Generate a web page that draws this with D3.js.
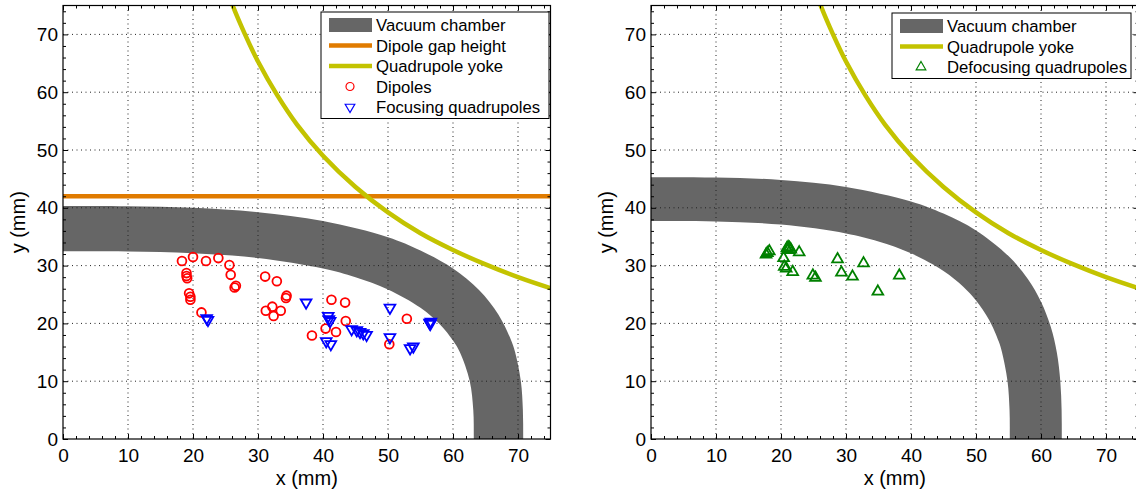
<!DOCTYPE html>
<html>
<head>
<meta charset="utf-8">
<script src="https://cdn.jsdelivr.net/npm/d3@7"></script>
<style>
  body { margin: 0; background: #fff; }
  svg { display: block; font-family: "Liberation Sans", Arial, sans-serif; }
</style>
</head>
<body>
<div id="chart"></div>
<script>
/* Data (mm) */
const majorTicks = [0, 10, 20, 30, 40, 50, 60, 70];
const minorTicks = [2, 4, 6, 8, 12, 14, 16, 18, 22, 24, 26, 28, 32, 34, 36, 38, 42, 44, 46, 48,
  52, 54, 56, 58, 62, 64, 66, 68, 72, 74];
const dipoleGap = 42;

const yoke = [[25, 78.4], [26.1, 75], [28, 70], [30, 65.3], [33, 59.4], [36, 54.4], [40, 49], [45, 43.6],
  [50, 39.2], [55, 35.6], [60, 32.7], [65, 30.2], [70, 28], [75, 26.1], [78, 25.1]];

const chamberLeftOuter = [[0, 40.3], [10, 40.26], [20, 40.0], [30, 39.25], [40, 37.7], [50, 34.9], [55, 32.6],
  [60, 29.5], [64, 25.8], [67, 21.5], [69, 16.9], [69.56, 15], [70.44, 10], [70.75, 5], [70.8, 0]];
const chamberLeftInner = [[0, 32.5], [10, 32.46], [20, 32.15], [30, 31.3], [40, 29.48], [45, 27.98], [50, 25.88],
  [55, 22.7], [58, 19.83], [60, 17.05], [61.06, 15], [62.58, 10], [63.12, 5], [63.2, 0]];
const chamberRightOuter = [[0, 45.3], [10, 45.24], [20, 44.82], [30, 43.62], [40, 41.1], [45, 39.0], [50, 36.07],
  [55, 31.64], [58, 27.64], [60, 23.76], [61.5, 19.4], [62.43, 15], [62.97, 10], [63.17, 5], [63.2, 0]];
const chamberRightInner = [[0, 37.7], [10, 37.63], [20, 37.09], [30, 35.57], [35, 34.18], [40, 32.14], [45, 29.07],
  [48, 26.38], [50, 23.97], [52, 20.64], [53.5, 16.87], [54.0, 15], [54.85, 10], [55.16, 5], [55.2, 0]];

const dipoles = [[18.3, 30.8], [20.0, 31.5], [22.0, 30.8], [23.9, 31.3], [25.6, 30.1], [25.8, 28.4],
  [19.0, 28.7], [19.0, 28.2], [19.1, 27.8], [26.6, 26.5], [26.4, 26.2], [19.4, 25.2], [19.6, 24.6], [19.6, 24.1],
  [21.3, 21.9], [31.1, 28.1], [32.9, 27.3], [34.4, 24.8], [34.3, 24.4], [32.2, 22.9], [33.5, 22.2], [31.2, 22.2],
  [32.4, 21.3], [41.3, 24.1], [43.4, 23.6], [43.5, 20.4], [40.4, 19.1], [42.0, 18.5], [38.3, 17.9],
  [52.9, 20.8], [50.2, 16.4]];

const focusing = [[22.1, 20.9], [22.3, 20.6], [37.4, 23.6], [40.8, 21.3], [40.9, 20.7], [41.1, 20.4],
  [40.5, 16.9], [41.2, 16.4], [44.4, 19.0], [45.2, 18.8], [45.7, 18.5], [46.2, 18.3], [46.7, 18.0],
  [50.3, 22.7], [50.3, 17.6], [53.4, 15.7], [53.9, 16.0], [56.4, 20.1], [56.5, 19.9], [56.6, 20.3]];

const defocusing = [[17.7, 31.9], [17.9, 32.2], [18.2, 32.5], [20.4, 31.3], [20.9, 33.0], [21.1, 33.2],
  [21.3, 33.1], [21.5, 32.8], [21.0, 32.7], [22.8, 32.3], [20.5, 29.8], [20.8, 29.5], [21.8, 28.9],
  [24.9, 28.3], [25.3, 27.9], [28.7, 31.1], [29.3, 28.8], [31.0, 28.1], [32.7, 30.4], [34.9, 25.5], [38.2, 28.3]];

/* Colors */
const chamberColor = "#666666";
const gapColor = "#e07b00";
const yokeColor = "#c3c300";

const width = 1136, height = 494;
const svg = d3.select("#chart").append("svg")
  .attr("width", width)
  .attr("height", height);

const plotW = 487.5, plotTop = 5.5, plotBottom = 439;

function bandPath(outer, inner, x, y) {
  const line = d3.line().x(d => x(d[0])).y(d => y(d[1])).curve(d3.curveCatmullRom);
  const o = [[-5, outer[0][1]], ...outer, [outer[outer.length - 1][0], -5]];
  const inn = inner.slice().reverse();
  const i = [[inn[0][0], -5], ...inn, [-5, inner[0][1]]];
  return line(o) + line(i).replace("M", "L") + "Z";
}

function drawPanel(id, left, cfg) {
  const x = d3.scaleLinear().domain([0, 75]).range([left, left + plotW]);
  const y = d3.scaleLinear().domain([0, 75]).range([plotBottom, plotTop]);

  svg.append("clipPath").attr("id", "clip" + id)
    .append("rect")
    .attr("x", left).attr("y", plotTop)
    .attr("width", plotW).attr("height", plotBottom - plotTop);

  const g = svg.append("g").attr("clip-path", `url(#clip${id})`);

  // vacuum chamber
  g.append("path")
    .attr("d", bandPath(cfg.outer, cfg.inner, x, y))
    .attr("fill", chamberColor);

  // grid
  g.selectAll(".gx").data(majorTicks.slice(1)).enter().append("line")
    .attr("x1", d => x(d)).attr("x2", d => x(d))
    .attr("y1", plotTop).attr("y2", plotBottom)
    .attr("stroke", "#222").attr("stroke-width", 1).attr("stroke-dasharray", "1,3.5");
  g.selectAll(".gy").data(majorTicks.slice(1)).enter().append("line")
    .attr("y1", d => y(d)).attr("y2", d => y(d))
    .attr("x1", left).attr("x2", left + plotW)
    .attr("stroke", "#222").attr("stroke-width", 1).attr("stroke-dasharray", "1,3.5");

  if (cfg.gap) {
    g.append("line")
      .attr("x1", x(0)).attr("x2", x(75))
      .attr("y1", y(dipoleGap)).attr("y2", y(dipoleGap))
      .attr("stroke", gapColor).attr("stroke-width", 4.5);
  }

  g.append("path")
    .datum(yoke)
    .attr("fill", "none")
    .attr("stroke", yokeColor)
    .attr("stroke-width", 4.5)
    .attr("d", d3.line().x(d => x(d[0])).y(d => y(d[1])).curve(d3.curveCatmullRom));

  // markers
  cfg.series.forEach(s => {
    if (s.shape === "circle") {
      g.selectAll(null).data(s.data).enter().append("circle")
        .attr("cx", d => x(d[0])).attr("cy", d => y(d[1]))
        .attr("r", 4.4)
        .attr("fill", "none").attr("stroke", s.color).attr("stroke-width", 1.8);
    } else {
      g.selectAll(null).data(s.data).enter().append("path")
        .attr("transform", d => `translate(${x(d[0])},${y(d[1])}) rotate(${s.shape === "down" ? 180 : 0})`)
        .attr("d", d3.symbol().type(d3.symbolTriangle).size(50))
        .attr("fill", "none").attr("stroke", s.color).attr("stroke-width", 1.8);
    }
  });

  // axes
  const axisStyle = sel => {
    sel.select(".domain").remove();
    sel.selectAll("line").attr("stroke", "#000");
    sel.selectAll("text").attr("font-size", "19px").attr("fill", "#000")
      .attr("font-family", "Liberation Sans, Arial, sans-serif");
  };
  svg.append("g").attr("transform", `translate(0,${plotBottom})`)
    .call(d3.axisBottom(x).tickValues(majorTicks).tickSizeInner(-5).tickSizeOuter(0).tickPadding(10))
    .call(axisStyle);
  svg.append("g").attr("transform", `translate(0,${plotBottom})`)
    .call(d3.axisBottom(x).tickValues(minorTicks).tickSizeInner(-3).tickSizeOuter(0).tickFormat(""))
    .call(axisStyle);
  svg.append("g").attr("transform", `translate(${left},0)`)
    .call(d3.axisLeft(y).tickValues(majorTicks).tickSizeInner(-5).tickSizeOuter(0).tickPadding(5))
    .call(axisStyle);
  svg.append("g").attr("transform", `translate(${left},0)`)
    .call(d3.axisLeft(y).tickValues(minorTicks).tickSizeInner(-3).tickSizeOuter(0).tickFormat(""))
    .call(axisStyle);
  svg.append("g").attr("transform", `translate(0,${plotTop})`)
    .call(d3.axisTop(x).tickValues(majorTicks).tickSizeInner(-5).tickSizeOuter(0).tickFormat(""))
    .call(axisStyle);
  svg.append("g").attr("transform", `translate(0,${plotTop})`)
    .call(d3.axisTop(x).tickValues(minorTicks).tickSizeInner(-3).tickSizeOuter(0).tickFormat(""))
    .call(axisStyle);
  svg.append("g").attr("transform", `translate(${left + plotW},0)`)
    .call(d3.axisRight(y).tickValues(majorTicks).tickSizeInner(-5).tickSizeOuter(0).tickFormat(""))
    .call(axisStyle);
  svg.append("g").attr("transform", `translate(${left + plotW},0)`)
    .call(d3.axisRight(y).tickValues(minorTicks).tickSizeInner(-3).tickSizeOuter(0).tickFormat(""))
    .call(axisStyle);

  // frame
  svg.append("rect")
    .attr("x", left).attr("y", plotTop)
    .attr("width", plotW).attr("height", plotBottom - plotTop)
    .attr("fill", "none").attr("stroke", "#000").attr("stroke-width", 1.2);

  // axis titles
  svg.append("text")
    .attr("x", left + plotW / 2).attr("y", 485)
    .attr("text-anchor", "middle").attr("font-size", "20px")
    .text("x (mm)");
  svg.append("text")
    .attr("transform", `translate(${left - 38},${(plotTop + plotBottom) / 2}) rotate(-90)`)
    .attr("text-anchor", "middle").attr("font-size", "20px")
    .text("y (mm)");

  /* Legend */
  const lg = cfg.legend;
  const legend = svg.append("g").attr("transform", `translate(${lg.x},${lg.y})`);
  legend.append("rect")
    .attr("width", lg.w).attr("height", lg.items.length * 20.5 + 4)
    .attr("fill", "#fff").attr("stroke", "#000").attr("stroke-width", 1);
  lg.items.forEach((it, i) => {
    const row = legend.append("g").attr("transform", `translate(0,${13 + i * 20.5})`);
    if (it.kind === "patch") {
      row.append("rect").attr("x", 8).attr("y", -7).attr("width", 43).attr("height", 14).attr("fill", chamberColor);
    } else if (it.kind === "line") {
      row.append("line").attr("x1", 8).attr("x2", 51).attr("y1", 0).attr("y2", 0)
        .attr("stroke", it.color).attr("stroke-width", 4.5);
    } else if (it.kind === "circle") {
      row.append("circle").attr("cx", 29).attr("cy", 0).attr("r", 4)
        .attr("fill", "none").attr("stroke", it.color).attr("stroke-width", 1.2);
    } else {
      row.append("path")
        .attr("transform", `translate(29,0) rotate(${it.kind === "down" ? 180 : 0})`)
        .attr("d", d3.symbol().type(d3.symbolTriangle).size(40))
        .attr("fill", "none").attr("stroke", it.color).attr("stroke-width", 1.2);
    }
    row.append("text").attr("x", 55).attr("y", 6)
      .attr("font-size", "16.7px").text(it.label);
  });
}

drawPanel("L", 63, {
  outer: chamberLeftOuter, inner: chamberLeftInner, gap: true,
  series: [
    { data: dipoles, shape: "circle", color: "#ff0000" },
    { data: focusing, shape: "down", color: "#0000ff" }
  ],
  legend: {
    x: 321, y: 12, w: 228,
    items: [
      { kind: "patch", label: "Vacuum chamber" },
      { kind: "line", color: gapColor, label: "Dipole gap height" },
      { kind: "line", color: yokeColor, label: "Quadrupole yoke" },
      { kind: "circle", color: "#ff0000", label: "Dipoles" },
      { kind: "down", color: "#0000ff", label: "Focusing quadrupoles" }
    ]
  }
});

drawPanel("R", 651, {
  outer: chamberRightOuter, inner: chamberRightInner, gap: false,
  series: [
    { data: defocusing, shape: "up", color: "#008000" }
  ],
  legend: {
    x: 892, y: 13, w: 239,
    items: [
      { kind: "patch", label: "Vacuum chamber" },
      { kind: "line", color: yokeColor, label: "Quadrupole yoke" },
      { kind: "up", color: "#008000", label: "Defocusing quadrupoles" }
    ]
  }
});
</script>
</body>
</html>
